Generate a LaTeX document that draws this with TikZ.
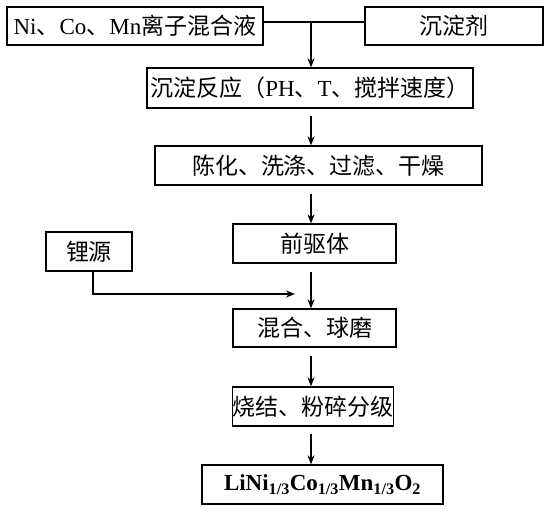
\documentclass[tikz,border=0pt]{standalone}
\usepackage{fontspec}
\setmainfont{Liberation Serif}
\newfontfamily\cjk{Noto Sans CJK SC}
\usetikzlibrary{arrows.meta}
\begin{document}
\begin{tikzpicture}[x=1pt,y=1pt,
  boxnode/.style={draw,line width=1.3pt,inner sep=0pt,anchor=center,
    font=\fontsize{23pt}{27pt}\selectfont},
  flow/.style={line width=1.3pt,-{Stealth[length=9pt,width=7pt]}},
  plain/.style={line width=1.3pt}]
\useasboundingbox (0,0) rectangle (550,-521);
\node[boxnode,minimum width=256,minimum height=38] (b1) at (135,-26)
  {Ni{\cjk 、}Co{\cjk 、}Mn{\cjk 离子混合液}};
\node[boxnode,minimum width=178,minimum height=38] (b2) at (454,-26)
  {\cjk 沉淀剂};
\node[boxnode,minimum width=326,minimum height=40] (b3) at (310,-88)
  {{\cjk 沉淀反应（}PH{\cjk 、}T{\cjk 、搅拌速度）}};
\node[boxnode,minimum width=327,minimum height=39] (b4) at (318.5,-165.5)
  {\cjk 陈化、洗涤、过滤、干燥};
\node[boxnode,minimum width=163,minimum height=39] (b5) at (314.5,-243.5)
  {\cjk 前驱体};
\node[boxnode,minimum width=86,minimum height=39] (li) at (89,-251.5)
  {\cjk 锂源};
\node[boxnode,minimum width=163,minimum height=38] (b6) at (314.5,-328)
  {\cjk 混合、球磨};
\node[boxnode,minimum width=160,minimum height=39] (b7) at (313,-406.5)
  {\cjk 烧结、粉碎分级};
\node[boxnode,minimum width=241,minimum height=39] (b8) at (322.5,-484.5)
  {\bfseries LiNi\textsubscript{1/3}Co\textsubscript{1/3}Mn\textsubscript{1/3}O\textsubscript{2}};
\coordinate (j) at (311,-22);
\coordinate (ax) at (311,0);
\coordinate (lx) at (93,0);
\coordinate (lc) at (93,-294);
\coordinate (lend) at (295,-294);
\draw[plain] (b1.east |- j) -- (b2.west |- j);
\draw[flow] (j) -- (b3.north -| j);
\draw[flow,shorten <=7pt] (b3.south -| ax) -- (b4.north -| ax);
\draw[flow,shorten <=8pt] (b4.south -| ax) -- (b5.north -| ax);
\draw[flow,shorten <=8pt] (b5.south -| ax) -- (b6.north -| ax);
\draw[flow,shorten <=8pt] (b6.south -| ax) -- (b7.north -| ax);
\draw[flow,shorten <=7pt] (b7.south -| ax) -- (b8.north -| ax);
\draw[flow] (li.south -| lx) -- (lc) -- (lend);
\end{tikzpicture}
\end{document}
